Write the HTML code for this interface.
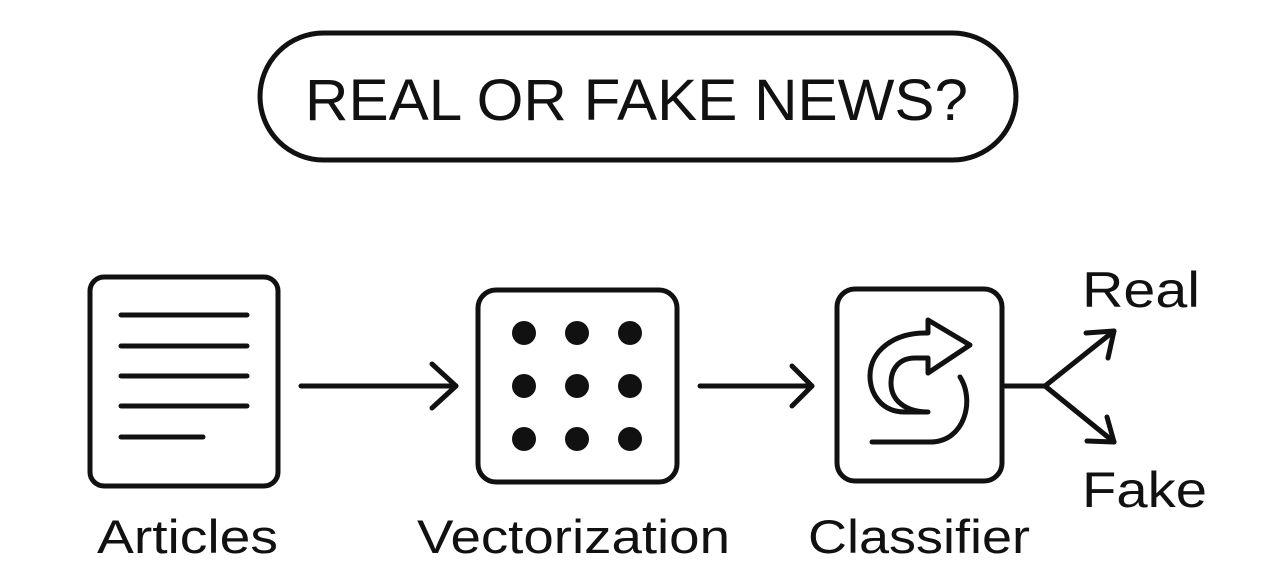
<!DOCTYPE html>
<html><head><meta charset="utf-8"><style>
body{margin:0;background:#fff;}
svg{display:block}
text{font-family:"Liberation Sans",sans-serif;fill:#111}
</style></head><body>
<svg width="1286" height="582" viewBox="0 0 1286 582">
<g fill="none" stroke="#111" stroke-width="5" stroke-linecap="round" stroke-linejoin="round">
<rect x="260" y="33" width="756" height="127" rx="63.5"/>
<rect x="90" y="277" width="188" height="209" rx="14"/>
<line x1="121" y1="315" x2="247" y2="315"/>
<line x1="121" y1="346" x2="247" y2="346"/>
<line x1="121" y1="376" x2="247" y2="376"/>
<line x1="121" y1="406" x2="247" y2="406"/>
<line x1="121" y1="437" x2="203" y2="437"/>
<line x1="301" y1="386" x2="456" y2="386"/>
<polyline points="432,364 456,386 432,408"/>
<rect x="478" y="290" width="199" height="192" rx="18"/>
<line x1="700" y1="386" x2="812" y2="386"/>
<polyline points="792,366 812,386 792,406"/>
<rect x="837" y="289" width="165" height="192" rx="18"/>
<path d="M928 412 L905 412 C880 412 870 392 870 376 C870 350 895 333 925 333 L928 333 L928 320 L970 345 L928 373 L928 358 L915 358 C900 358 891 368 891 383 C891 400 905 412 928 412"/>
<path d="M960 377 C975 400 965 442 930 442 L872 442"/>
<line x1="1003" y1="386" x2="1045" y2="386"/>
<line x1="1045" y1="386" x2="1114" y2="331"/>
<line x1="1045" y1="386" x2="1114" y2="442"/>
<polyline points="1086,333 1114,331 1108,358"/>
<polyline points="1107,417 1114,442 1087,441"/>
</g>
<g fill="#111">
<circle cx="524" cy="333" r="12"/><circle cx="577" cy="333" r="12"/><circle cx="630" cy="333" r="12"/>
<circle cx="524" cy="386" r="12"/><circle cx="577" cy="386" r="12"/><circle cx="630" cy="386" r="12"/>
<circle cx="524" cy="439" r="12"/><circle cx="577" cy="439" r="12"/><circle cx="630" cy="439" r="12"/>
</g>
<text x="305" y="120" font-size="58" textLength="663" lengthAdjust="spacingAndGlyphs">REAL OR FAKE NEWS?</text>
<text x="97" y="553" font-size="47" textLength="181" lengthAdjust="spacingAndGlyphs">Articles</text>
<text x="417" y="553" font-size="47" textLength="313" lengthAdjust="spacingAndGlyphs">Vectorization</text>
<text x="808" y="553" font-size="47" textLength="222" lengthAdjust="spacingAndGlyphs">Classifier</text>
<text x="1082" y="307" font-size="50" textLength="118" lengthAdjust="spacingAndGlyphs">Real</text>
<text x="1082" y="507" font-size="50" textLength="125" lengthAdjust="spacingAndGlyphs">Fake</text>
</svg>
</body></html>
